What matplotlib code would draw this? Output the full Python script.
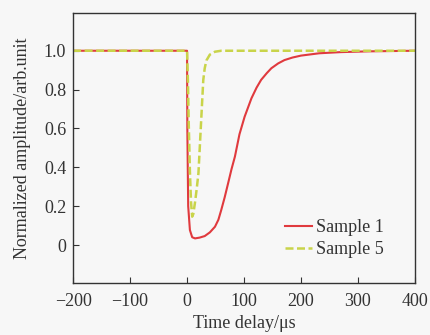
import numpy as np
import matplotlib
matplotlib.use('Agg')
import matplotlib.pyplot as plt

plt.rcParams['font.family'] = 'Liberation Serif'
plt.rcParams['axes.unicode_minus'] = True

# Sample 1 (solid red)
t1 = [-200, 0, 0.5, 2, 5, 9, 14, 22, 31, 40, 49, 55, 60, 66, 72, 78, 84, 92,
      101, 113, 122, 130, 140, 148, 160, 171, 185, 200, 232, 270, 320, 400]
a1 = [1.0, 1.0, 0.6, 0.2, 0.077, 0.04, 0.034, 0.038, 0.046, 0.065, 0.094,
      0.13, 0.18, 0.245, 0.317, 0.39, 0.455, 0.57, 0.66, 0.755, 0.81, 0.85,
      0.885, 0.91, 0.935, 0.952, 0.965, 0.975, 0.987, 0.993, 0.997, 1.0]

# Sample 5 (dashed yellow-green)
t5 = [-200, 0, 1.5, 3, 5, 7, 9, 11, 14, 17, 20, 23, 26, 28.5, 31, 34, 40, 49, 60, 400]
a5 = [1.0, 1.0, 0.85, 0.62, 0.38, 0.22, 0.146, 0.16, 0.22, 0.29, 0.37, 0.54,
      0.71, 0.85, 0.91, 0.95, 0.98, 0.995, 1.0, 1.0]

xticks = [-200, -100, 0, 100, 200, 300, 400]
yticks = [0, 0.2, 0.4, 0.6, 0.8, 1.0]
ytlabels = ['0', '0.2', '0.4', '0.6', '0.8', '1.0']

fig = plt.figure(figsize=(4.3, 3.35), dpi=100, facecolor='#f7f7f7')
ax = fig.add_axes([0.170, 0.155, 0.795, 0.806])
ax.set_facecolor('#f7f7f7')

ax.plot(t1, a1, color='#e03a3e', lw=1.5, label='Sample 1')
ax.plot(t5, a5, color='#c9d44a', lw=1.8, ls=(0, (3.2, 1.4)), label='Sample 5')

ax.set_xlim(-200, 400)
ax.set_ylim(-0.196, 1.194)
ax.set_xticks(xticks)
ax.set_yticks(yticks)
ax.set_yticklabels(ytlabels)
ax.tick_params(direction='in', length=4, labelsize=13, colors='#333333', pad=5)
ax.tick_params(axis='x', pad=7)
for s in ax.spines.values():
    s.set_color('#333333')
    s.set_linewidth(1.0)

ax.set_xlabel('Time delay/\u03bcs', fontsize=13, color='#333333', labelpad=4)
ax.set_ylabel('Normalized amplitude/arb.unit', fontsize=13, color='#333333', labelpad=9)

leg = ax.legend(loc='lower right', frameon=False, fontsize=13, handlelength=1.5,
                handletextpad=0.2, labelspacing=0.3, borderaxespad=0,
                bbox_to_anchor=(0.93, 0.065))
for t in leg.get_texts():
    t.set_color('#333333')

fig.savefig('out.png', dpi=100, facecolor=fig.get_facecolor())
